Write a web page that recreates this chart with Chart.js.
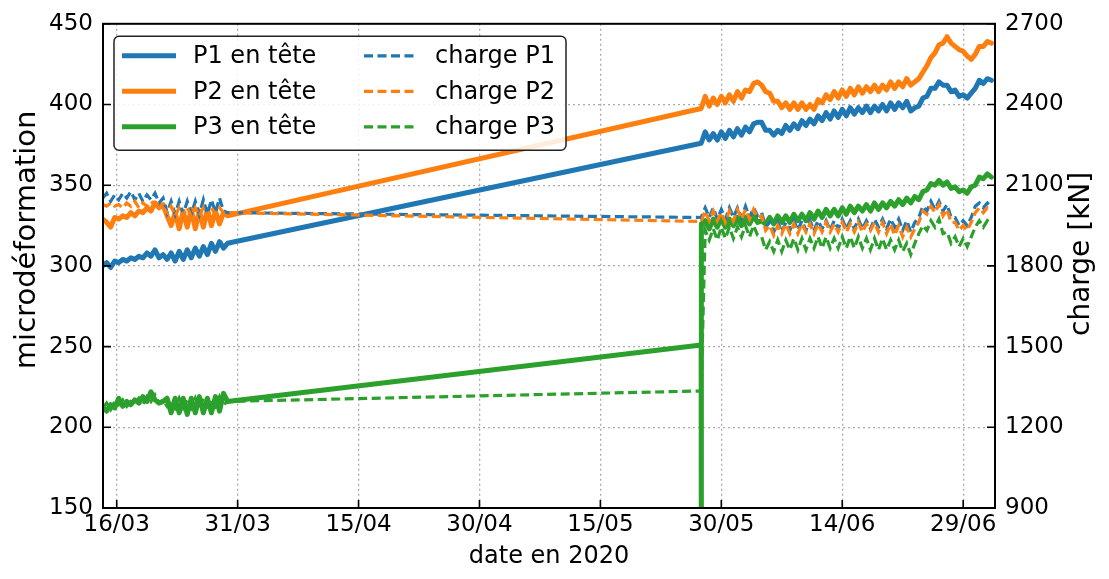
<!DOCTYPE html>
<html>
<head>
<meta charset="utf-8">
<script src="https://cdn.jsdelivr.net/npm/chart.js@4.4.1/dist/chart.umd.min.js"></script>
<style>
  html, body { margin: 0; padding: 0; background: #fff; }
  #chart { display: block; }
</style>
</head>
<body>
<canvas id="chart" width="1109" height="579"></canvas>
<script>
// x values are days counted from 16/03/2020
const tickDays = [0, 15, 30, 45, 60, 75, 90, 105];
const tickLabels = ['16/03', '31/03', '15/04', '30/04', '15/05', '30/05', '14/06', '29/06'];

// first measuring period (mid to end of March)
const days1 = [-1.75, -1.25, -0.75, -0.25, 0.25, 0.75, 1.25, 1.75, 2.25, 2.75,
  3.25, 3.75, 4.25, 4.75, 5.25, 5.75, 6.25, 6.75, 7.25, 7.75,
  8.25, 8.75, 9.25, 9.75, 10.25, 10.75, 11.25, 11.75, 12.25, 12.75,
  13.25, 13.75];
// restart of the logger, end of May
const bridgeDay = 72.5;
// second measuring period (end of May to start of July)
const days2 = [73, 73.5, 74, 74.5, 75, 75.5, 76, 76.5, 77, 77.5,
  78, 78.5, 79, 79.5, 80, 80.5, 81, 81.5, 82, 82.5,
  83, 83.5, 84, 84.5, 85, 85.5, 86, 86.5, 87, 87.5,
  88, 88.5, 89, 89.5, 90, 90.5, 91, 91.5, 92, 92.5,
  93, 93.5, 94, 94.5, 95, 95.5, 96, 96.5, 97, 97.5,
  98, 98.5, 99, 99.5, 100, 100.5, 101, 101.5, 102, 102.5,
  103, 103.5, 104, 104.5, 105, 105.5, 106, 106.5, 107, 107.5,
  108, 108.5];

// microdéformation
const p1Early = [300, 302, 299, 303, 302, 304, 303, 305, 304, 306,
  305, 308, 306, 310, 305, 307, 304, 308, 303, 309,
  304, 310, 305, 311, 306, 312, 307, 314, 309, 315,
  311, 314];
const p1Bridge = 376;
const p1Late = [383, 378, 382, 378, 383, 379, 384, 380, 385, 381,
  386, 383, 388, 389, 389, 384, 384, 381, 384, 382,
  387, 384, 388, 385, 390, 387, 391, 388, 393, 390,
  395, 391, 396, 392, 397, 393, 398, 394, 398, 395,
  399, 395, 399, 396, 400, 396, 401, 397, 401, 398,
  402, 396, 398, 399, 404, 405, 410, 410, 414, 412,
  412, 408, 409, 405, 406, 404, 407, 410, 415, 413,
  416, 415];

const p2Early = [329, 327, 324, 330, 329, 331, 330, 333, 331, 334,
  333, 336, 334, 339, 336, 338, 331, 325, 333, 323,
  334, 324, 335, 323, 334, 324, 335, 325, 334, 326,
  333, 331];
const p2Bridge = 397.5;
const p2Late = [405, 399, 404, 400, 405, 401, 406, 402, 408, 404,
  409, 408, 413, 414, 412, 408, 407, 402, 402, 398,
  401, 397, 401, 397, 401, 397, 400, 397, 403, 401,
  406, 403, 408, 404, 409, 405, 410, 406, 411, 407,
  411, 408, 412, 408, 412, 409, 414, 410, 414, 411,
  416, 412, 414, 416, 420, 424, 429, 432, 437, 438,
  442, 438, 436, 434, 433, 430, 428, 431, 436, 436,
  439, 438];

const p3Early = [213, 210, 214, 212, 218, 213, 216, 214, 217, 215,
  219, 216, 222, 217, 215, 216, 218, 209, 218, 209,
  218, 208, 218, 209, 219, 209, 218, 209, 219, 210,
  221, 216];
const p3DropDays = [72.5, 72.5, 72.55];
const p3Drop = [251, 0, 326];
const p3Late = [328, 323, 329, 324, 330, 324, 329, 325, 330, 325,
  330, 326, 331, 327, 328, 326, 330, 326, 331, 327,
  331, 327, 332, 328, 332, 328, 333, 329, 334, 330,
  335, 331, 335, 331, 336, 332, 337, 333, 337, 334,
  338, 334, 339, 335, 339, 336, 340, 337, 341, 338,
  342, 339, 343, 341, 346, 347, 351, 350, 353, 350,
  352, 348, 349, 346, 347, 345, 349, 350, 355, 354,
  357, 355];

// charge [kN]
const c1Early = [2052, 2070, 2040, 2064, 2046, 2070, 2052, 2076, 2046, 2070,
  2040, 2064, 2046, 2070, 2034, 2052, 1998, 2040, 1992, 2040,
  1992, 2040, 1992, 2040, 1992, 2046, 1992, 2046, 1998, 2052,
  2004, 1998];
const c1Bridge = 1980;
const c1Late = [2016, 1980, 2016, 1974, 2010, 1974, 2016, 1980, 2016, 1980,
  2022, 1980, 2016, 1986, 1998, 1944, 1962, 1926, 1962, 1926,
  1962, 1932, 1968, 1932, 1968, 1932, 1968, 1932, 1968, 1938,
  1968, 1932, 1968, 1938, 1974, 1938, 1968, 1938, 1974, 1938,
  1968, 1938, 1974, 1944, 1974, 1938, 1974, 1944, 1974, 1932,
  1968, 1926, 1962, 1980, 2022, 2004, 2040, 2010, 2040, 2004,
  2028, 1980, 1980, 1950, 1968, 1950, 1980, 2022, 2034, 2016,
  2034, 2022];

const c2Early = [2028, 2022, 2034, 2022, 2028, 2016, 2034, 2022, 2040, 2016,
  2034, 2022, 2040, 2028, 2034, 2016, 1998, 2022, 1986, 2016,
  1986, 2016, 1986, 2016, 1986, 2016, 1986, 2016, 1992, 2016,
  1998, 1998];
const c2Bridge = 1965;
const c2Late = [2004, 1968, 2004, 1968, 1998, 1962, 2004, 1968, 2010, 1974,
  2010, 1974, 2010, 1980, 1986, 1932, 1950, 1914, 1950, 1920,
  1956, 1920, 1956, 1920, 1956, 1926, 1956, 1920, 1956, 1926,
  1962, 1926, 1956, 1926, 1962, 1926, 1956, 1926, 1962, 1926,
  1956, 1932, 1962, 1926, 1962, 1920, 1956, 1914, 1950, 1908,
  1944, 1908, 1938, 1962, 2004, 1992, 2022, 1998, 2028, 1986,
  2010, 1962, 1962, 1932, 1950, 1932, 1962, 1998, 2016, 1998,
  2016, 2004];

const c3Early = [1272, 1290, 1266, 1296, 1284, 1302, 1278, 1296, 1290, 1308,
  1284, 1314, 1296, 1320, 1290, 1302, 1278, 1302, 1272, 1308,
  1272, 1302, 1272, 1308, 1272, 1308, 1278, 1302, 1278, 1314,
  1284, 1296];
const c3Bridge = 1335;
const c3Late = [1932, 1896, 1938, 1896, 1944, 1902, 1944, 1902, 1944, 1908,
  1950, 1908, 1950, 1914, 1908, 1860, 1890, 1854, 1896, 1854,
  1896, 1860, 1902, 1860, 1902, 1860, 1902, 1866, 1908, 1866,
  1908, 1866, 1902, 1866, 1908, 1866, 1908, 1866, 1908, 1866,
  1902, 1860, 1902, 1860, 1902, 1860, 1896, 1860, 1896, 1854,
  1884, 1842, 1884, 1920, 1950, 1932, 1968, 1944, 1974, 1920,
  1926, 1884, 1908, 1872, 1902, 1872, 1908, 1944, 1968, 1944,
  1968, 1956];

const BLUE = '#1f77b4', ORANGE = '#ff7f0e', GREEN = '#2ca02c';
const FONT = "'DejaVu Sans', sans-serif";

function pts(days, vals) {
  return days.map((d, i) => ({ x: d, y: vals[i] }));
}
function joined(early, midDays, mid, late) {
  return [...pts(days1, early), ...pts(midDays, mid), ...pts(days2, late)];
}

function solid(label, color, data, order) {
  return { label, data, yAxisID: 'y', borderColor: color, backgroundColor: color,
    borderWidth: 5, pointRadius: 0, tension: 0, order,
    borderJoinStyle: 'round', borderCapStyle: 'round' };
}
function dashed(label, color, data, order) {
  return { label, data, yAxisID: 'y1', borderColor: color, backgroundColor: color,
    borderWidth: 3.2, borderDash: [9, 4.5], pointRadius: 0, tension: 0, order };
}

// legend drawn inside the plot, two columns, with a frame
const boxLegend = {
  id: 'boxLegend',
  afterDraw(chart) {
    const { ctx, chartArea: a } = chart;
    const x0 = a.left + 11, y0 = a.top + 12.5, w = 452, h = 114;
    ctx.save();
    ctx.beginPath();
    ctx.roundRect(x0, y0, w, h, 5);
    ctx.fillStyle = 'rgba(255,255,255,0.85)';
    ctx.fill();
    ctx.lineWidth = 1.5;
    ctx.strokeStyle = '#222';
    ctx.stroke();
    chart.data.datasets.forEach((ds, i) => {
      const col = i < 3 ? 0 : 1;
      const row = i % 3;
      const lx = x0 + 8 + col * 242;
      const ly = y0 + 19.5 + row * 35.5;
      ctx.beginPath();
      ctx.strokeStyle = ds.borderColor;
      ctx.lineWidth = ds.borderWidth;
      ctx.setLineDash(ds.borderDash || []);
      ctx.moveTo(lx, ly);
      ctx.lineTo(lx + 54, ly);
      ctx.stroke();
      ctx.setLineDash([]);
      ctx.fillStyle = '#000';
      ctx.font = '24px ' + FONT;
      ctx.textBaseline = 'middle';
      ctx.fillText(ds.label, lx + 71, ly + 1);
    });
    ctx.restore();
  }
};

function sideTitle(ctx, text, x, y, size) {
  ctx.save();
  ctx.translate(x, y);
  ctx.rotate(-Math.PI / 2);
  ctx.fillStyle = '#000';
  ctx.font = size + 'px ' + FONT;
  ctx.textAlign = 'center';
  ctx.textBaseline = 'middle';
  ctx.fillText(text, 0, 0);
  ctx.restore();
}

// matplotlib-like frame, inward ticks and the two vertical axis titles
const frame = {
  id: 'frame',
  afterDatasetsDraw(chart) {
    const { ctx, chartArea: a, scales } = chart;
    ctx.save();
    ctx.strokeStyle = '#000';
    ctx.lineWidth = 1.6;
    ctx.beginPath();
    scales.x.ticks.forEach(t => {
      const px = scales.x.getPixelForValue(t.value);
      ctx.moveTo(px, a.bottom); ctx.lineTo(px, a.bottom - 8);
    });
    scales.y.ticks.forEach(t => {
      const py = scales.y.getPixelForValue(t.value);
      ctx.moveTo(a.left, py); ctx.lineTo(a.left + 8, py);
    });
    scales.y1.ticks.forEach(t => {
      const py = scales.y1.getPixelForValue(t.value);
      ctx.moveTo(a.right, py); ctx.lineTo(a.right - 8, py);
    });
    ctx.stroke();
    ctx.lineWidth = 2;
    ctx.strokeRect(a.left, a.top, a.right - a.left, a.bottom - a.top);
    ctx.restore();
  },
  afterDraw(chart) {
    const { ctx, chartArea: a } = chart;
    const mid = (a.top + a.bottom) / 2;
    sideTitle(ctx, 'microdéformation', 27, mid - 26, 29);
    sideTitle(ctx, 'charge [kN]', 1082, mid - 12, 28);
  }
};

Chart.defaults.color = '#000';
Chart.defaults.font.family = FONT;

const gridStyle = { color: '#aaaaaa', lineWidth: 1.3, drawTicks: false };

new Chart(document.getElementById('chart'), {
  type: 'line',
  data: {
    datasets: [
      solid('P1 en tête', BLUE, joined(p1Early, [bridgeDay], [p1Bridge], p1Late), 6),
      solid('P2 en tête', ORANGE, joined(p2Early, [bridgeDay], [p2Bridge], p2Late), 5),
      solid('P3 en tête', GREEN, joined(p3Early, p3DropDays, p3Drop, p3Late), 4),
      dashed('charge P1', BLUE, joined(c1Early, [bridgeDay], [c1Bridge], c1Late), 3),
      dashed('charge P2', ORANGE, joined(c2Early, [bridgeDay], [c2Bridge], c2Late), 2),
      dashed('charge P3', GREEN, joined(c3Early, [bridgeDay], [c3Bridge], c3Late), 1)
    ]
  },
  options: {
    responsive: false,
    animation: false,
    layout: { padding: { top: 20, left: 0, right: 0, bottom: 0 } },
    plugins: { legend: { display: false }, tooltip: { enabled: false } },
    scales: {
      x: {
        type: 'linear',
        min: -1.7,
        max: 108.95,
        afterBuildTicks: s => { s.ticks = tickDays.map(v => ({ value: v })); },
        afterFit: s => { s.height = 71; },
        ticks: {
          autoSkip: false, maxRotation: 0, padding: 3,
          font: { size: 23 },
          callback: v => tickLabels[tickDays.indexOf(v)]
        },
        grid: gridStyle,
        border: { display: false, dash: [2, 3] },
        title: { display: true, text: 'date en 2020', font: { size: 24 }, padding: { bottom: 8 } }
      },
      y: {
        position: 'left',
        min: 150,
        max: 450,
        afterFit: s => { s.width = 103; },
        ticks: { stepSize: 50, padding: 10, font: { size: 23 } },
        grid: gridStyle,
        border: { display: false, dash: [2, 3] }
      },
      y1: {
        position: 'right',
        min: 900,
        max: 2700,
        afterFit: s => { s.width = 114; },
        ticks: { stepSize: 300, padding: 10, font: { size: 23 }, callback: v => String(v) },
        grid: { drawOnChartArea: false, drawTicks: false },
        border: { display: false }
      }
    }
  },
  plugins: [frame, boxLegend]
});
</script>
</body>
</html>
